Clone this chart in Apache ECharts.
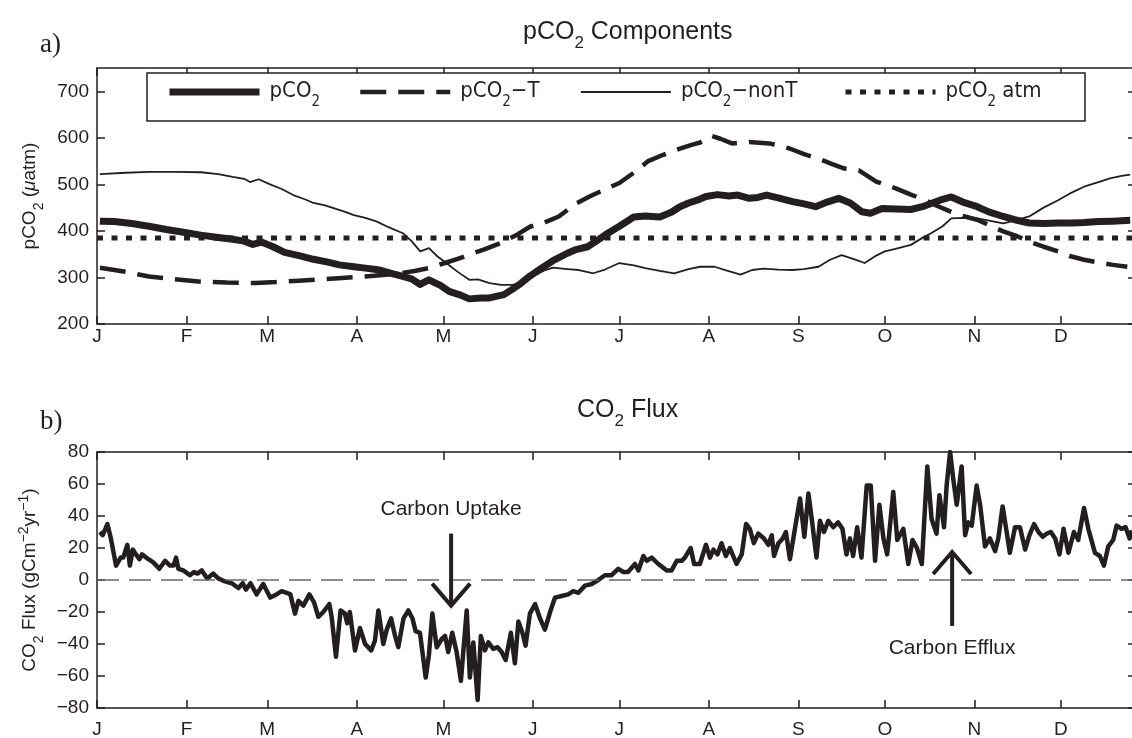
<!DOCTYPE html>
<html>
<head>
<meta charset="utf-8">
<script src="https://cdn.jsdelivr.net/npm/echarts@6/dist/echarts.min.js"></script>
<style>
  html, body { margin: 0; padding: 0; background: #fff; }
  #chart { width: 1132px; height: 738px; }
</style>
</head>
<body>
<div id="chart"></div>
<script>
// ---- data ----------------------------------------------------------------
const monthLabels = ['J', 'F', 'M', 'A', 'M', 'J', 'J', 'A', 'S', 'O', 'N', 'D'];
const monthStarts = [0, 31, 59, 90, 120, 151, 181, 212, 243, 273, 304, 334];
const pco2Ticks = [200, 300, 400, 500, 600, 700];
const fluxTicks = [-80, -60, -40, -20, 0, 20, 40, 60, 80];

// surface-water pCO2 (uatm) by day of year
const pco2 = [[1,421],[6,420],[12,416],[18,410],[24,403],[30,397],[36,391],[42,386],[47,382],[51,378],[54,371],[57,376],[61,366],[65,354],[70,347],[75,339],[80,333],[84,327],[89,323],[93,320],[98,316],[102,309],[105,304],[109,297],[112,285],[115,295],[119,283],[122,270],[126,262],[129,254],[133,256],[136,256],[141,263],[144,275],[147,288],[150,303],[154,320],[158,336],[163,352],[166,360],[170,366],[173,378],[177,395],[181,410],[186,430],[190,432],[195,430],[199,440],[202,452],[205,460],[208,466],[211,474],[215,478],[219,475],[222,477],[226,470],[229,472],[232,477],[236,471],[241,463],[245,458],[249,452],[253,462],[257,470],[261,460],[265,441],[268,438],[272,448],[277,447],[282,446],[286,452],[289,459],[293,468],[296,473],[300,462],[305,452],[309,441],[314,431],[318,424],[323,417],[328,416],[333,417],[338,417],[342,418],[347,420],[352,421],[358,423]];

// thermally driven component
const pco2T = [[1,321],[10,312],[18,302],[27,296],[36,291],[45,289],[55,288],[62,290],[70,293],[76,295],[85,299],[93,302],[100,306],[105,309],[110,314],[115,320],[120,330],[125,340],[129,349],[134,360],[140,374],[145,390],[150,409],[155,418],[160,431],[166,459],[171,475],[176,489],[181,503],[186,525],[191,550],[196,563],[202,577],[206,585],[209,590],[213,604],[216,598],[220,588],[226,591],[233,588],[240,577],[245,565],[250,555],[255,543],[259,534],[264,530],[270,506],[277,491],[282,478],[287,466],[291,454],[296,441],[300,432],[305,424],[310,410],[314,399],[319,388],[323,377],[328,366],[333,356],[337,346],[342,338],[347,332],[352,327],[357,323]];

// non-thermal component
const pco2NonT = [[1,522],[10,525],[18,527],[27,527],[36,526],[42,522],[47,516],[51,512],[53,505],[56,511],[60,500],[64,490],[68,477],[72,468],[75,460],[79,455],[82,449],[86,441],[89,434],[93,428],[97,420],[101,408],[106,395],[109,378],[112,356],[115,363],[118,345],[121,331],[125,312],[129,295],[132,296],[136,288],[140,284],[144,284],[148,290],[151,302],[155,315],[158,321],[163,318],[167,316],[172,309],[176,317],[181,331],[186,326],[190,320],[195,314],[200,309],[205,318],[209,323],[214,323],[218,315],[223,306],[227,316],[231,319],[236,317],[241,316],[245,318],[250,323],[254,338],[258,348],[262,340],[266,331],[270,347],[273,356],[277,362],[282,370],[286,385],[289,395],[293,410],[296,427],[300,428],[305,427],[310,421],[314,416],[318,422],[323,431],[328,450],[333,466],[337,480],[342,495],[347,505],[351,513],[355,518],[358,521]];

// atmospheric pCO2 (uatm), constant over the year
const pco2AtmDays = [0, 360];
const pco2AtmLevel = 385;

// air-sea CO2 flux (gC m-2 yr-1)
const flux = [[1,30],[2,28],[3.6,35],[4.8,26],[6.6,9],[8.2,14],[9.1,14],[10.5,22],[11.4,9],[12.4,19],[13.5,16],[14.7,13],[15.6,16],[17.8,13],[19.5,11],[21.6,7],[23.6,12],[25.3,9],[26.5,9],[27.4,14],[28.2,7],[29.9,6],[32.2,3],[33.6,5],[34.8,4],[36.3,6],[38.2,1],[40.3,4],[42,1],[43.8,-0.5],[45.5,-1.5],[46.7,-2],[49,-5],[50.5,-2],[51.6,-6],[53.2,-2],[55.3,-9],[57.6,-2.5],[60,-11],[62.2,-9],[64,-7],[65.7,-8],[67,-9],[68.6,-21],[69.8,-13],[71.5,-16],[73.6,-9],[75.2,-14],[76.7,-23],[78.4,-20],[80.5,-15],[81.3,-23],[82.8,-48],[84.4,-19],[85.9,-21],[86.7,-27],[87.6,-20],[89.4,-44],[91.1,-30],[92.9,-40],[95,-44],[96.3,-38],[97.5,-19],[99.2,-40],[100.4,-31],[101.9,-24],[103.3,-35],[104.4,-42],[106.2,-24],[107.9,-19],[109.3,-24],[110.4,-32],[111.9,-33],[113.9,-61],[115,-47],[116.2,-21],[117.7,-42],[119.4,-37],[120.6,-35],[121.7,-45],[123.1,-33],[124.6,-45],[126.1,-63],[128.1,-19],[129.2,-61],[130.4,-39],[131.9,-75],[133,-35],[134.4,-44],[135.6,-39],[137.3,-43],[138.8,-42],[140.2,-45],[141.6,-50],[143.4,-33],[144.8,-52],[146,-26],[147.4,-33],[148.5,-41],[150,-21],[151.8,-15],[153.5,-24],[155.2,-31],[157,-20],[158.7,-11],[161,-10],[163.3,-9],[165,-7],[166.8,-8],[169.1,-3.5],[171.4,-2.5],[173.7,0],[176,3],[178.3,3],[180.6,7],[182.4,5],[184,5],[186.4,10],[187.6,6],[189.3,15],[190.5,12],[192.2,14],[194.5,10],[197.4,6],[199.1,6],[200.9,12],[202.6,12],[203.7,14],[205.7,20],[206.9,10],[208.9,10],[211,22],[212.4,14],[213.6,19],[215,16],[216.4,23],[217.9,15],[219.3,20],[221.6,10],[223.4,16],[224.9,35],[226.2,32],[227.6,23],[229.1,29],[231.1,26],[232.6,22],[233.8,28],[234.6,15],[236.1,23],[237.6,26],[238.7,30],[240.1,13],[242.2,36],[243.6,51],[245.1,27],[246.5,54],[247.6,39],[249.3,14],[250.5,37],[251.9,30],[253.4,37],[255.1,33],[256.8,36],[258.3,32],[259.7,16],[260.9,26],[262,15],[263.4,33],[264.9,14],[266.7,59],[268.1,59],[269.6,12],[271.1,47],[272.5,26],[273.8,16],[275.9,55],[277.3,25],[279.4,32],[281.1,10],[282.6,25],[284.1,20],[285.8,10],[287.7,71],[289.2,38],[290.9,29],[291.9,53],[293.5,33],[294.4,59],[295.6,80],[296.7,63],[297.9,47],[299.6,71],[300.8,28],[301.9,36],[303.1,34],[304.8,59],[306,47],[307.7,21],[309.4,26],[311.2,18],[312.3,26],[313.8,46],[315.2,30],[316.3,17],[318.1,33],[319.8,33],[321.6,19],[323.1,28],[324.7,35],[326.2,30],[327.7,27],[329.1,29],[330.5,30],[332,26],[333.5,16],[334.9,32],[336.6,17],[338.5,30],[340,25],[342,45],[343.5,32],[345.8,17],[347.5,15],[348.9,9],[350.4,21],[352.1,25],[353.3,34],[355,32],[356.4,33],[357.8,26],[358.6,31]];

// annotations on the flux panel: arrow from tail to tip, text at label level
const noteText = ['Carbon Uptake', 'Carbon Efflux'];
const noteDay = [122.7, 296.3];
const arrowTail = [29, -28.7];
const arrowTip = [-16, 17.5];
const noteLevel = [44.4, -42.5];

// ---- styling -------------------------------------------------------------
const ink = '#231f20';
const sans = '"Liberation Sans", Arial, Helvetica, sans-serif';
const narrow = '"Liberation Sans Narrow", "DejaVu Sans Condensed", "Liberation Sans", sans-serif';
const DAY_MAX = 360;
const PX_PER_DAY = 2.886;

const monthOf = v => monthLabels[monthStarts.indexOf(Math.round(v))] || '';
const signed = v => (v < 0 ? '\u2212' + Math.abs(v) : String(v));

function xAxisFor(grid, position, withLabels, margin) {
  return {
    type: 'value', gridIndex: grid, position: position,
    min: 0, max: DAY_MAX,
    axisLine: { show: true, onZero: false, lineStyle: { color: ink, width: 1.5 } },
    axisTick: { show: true, inside: true, length: 8, customValues: monthStarts, lineStyle: { color: ink, width: 1.5 } },
    axisLabel: {
      show: withLabels, customValues: monthStarts, formatter: monthOf, margin: margin || 8,
      color: ink, fontSize: 19, fontFamily: sans
    },
    splitLine: { show: false }
  };
}

function yAxisFor(grid, position, min, max, ticks, withLabels, extra) {
  return Object.assign({
    type: 'value', gridIndex: grid, position: position, min: min, max: max,
    axisLine: { show: true, onZero: false, lineStyle: { color: ink, width: 1.5 } },
    axisTick: { show: true, inside: true, length: 8, customValues: ticks, lineStyle: { color: ink, width: 1.5 } },
    axisLabel: {
      show: withLabels, customValues: ticks, formatter: signed, margin: 8,
      color: ink, fontSize: 19, fontFamily: sans
    },
    splitLine: { show: false }
  }, extra || {});
}

const nameRich = {
  b: { fontSize: 19, lineHeight: 22, padding: [3, 0, 0, 0], verticalAlign: 'top', color: ink, fontFamily: sans },
  i: { fontSize: 19, lineHeight: 22, padding: [3, 0, 0, 0], verticalAlign: 'top', color: ink, fontFamily: sans, fontStyle: 'italic' },
  s: { fontSize: 14, lineHeight: 14, padding: [15, 0, 0, 0], verticalAlign: 'top', color: ink, fontFamily: sans },
  p: { fontSize: 14, lineHeight: 14, padding: [0, 0, 0, 0], verticalAlign: 'top', color: ink, fontFamily: sans }
};

const titleRich = {
  b: { fontSize: 25, lineHeight: 28, verticalAlign: 'top', color: ink, fontFamily: sans, fontWeight: 'normal' },
  s: { fontSize: 17, lineHeight: 17, padding: [15, 0, 0, 0], verticalAlign: 'top', color: ink, fontFamily: sans, fontWeight: 'normal' }
};

const legendNames = ['pCO2', 'pCO2-T', 'pCO2-nonT', 'pCO2 atm'];
const legendText = {
  'pCO2': '{g|pCO}{s|2}',
  'pCO2-T': '{g|pCO}{s|2}{b|\u2212T}',
  'pCO2-nonT': '{g|pCO}{s|2}{b|\u2212nonT}',
  'pCO2 atm': '{g|pCO}{s|2}{b| atm}'
};
const legendRich = {
  g: { fontSize: 22, lineHeight: 24, padding: [0, 0, 8, 5], verticalAlign: 'top', color: ink, fontFamily: narrow },
  b: { fontSize: 22, lineHeight: 24, padding: [0, 0, 8, 0], verticalAlign: 'top', color: ink, fontFamily: narrow },
  s: { fontSize: 15, lineHeight: 15, padding: [15, 0, 0, 0], verticalAlign: 'top', color: ink, fontFamily: narrow }
};
const legendLeft = [166, 358, 580, 843];

const serifStyle = { fontFamily: '"Liberation Serif", "DejaVu Serif", serif', fontSize: 27, fontWeight: 'normal', color: ink };

const option = {
  backgroundColor: '#ffffff',
  animation: false,
  title: [
    { text: 'a)', left: 40, top: 31, padding: 0, textStyle: serifStyle },
    { text: 'b)', left: 40, top: 408, padding: 0, textStyle: serifStyle },
    { text: '{b|pCO}{s|2}{b| Components}', left: 523, top: 20, padding: 0, textStyle: { rich: titleRich } },
    { text: '{b|CO}{s|2}{b| Flux}', left: 577, top: 398, padding: 0, textStyle: { rich: titleRich } }
  ],
  grid: [
    { left: 97, top: 68, width: DAY_MAX * PX_PER_DAY, height: 256, outerBoundsMode: 'none', containLabel: false },
    { left: 97, top: 452, width: DAY_MAX * PX_PER_DAY, height: 256, outerBoundsMode: 'none', containLabel: false }
  ],
  xAxis: [
    xAxisFor(0, 'bottom', true, 3),
    xAxisFor(0, 'top', false),
    xAxisFor(1, 'bottom', true, 12),
    xAxisFor(1, 'top', false)
  ],
  yAxis: [
    yAxisFor(0, 'left', 200, 750, pco2Ticks, true, {
      name: '{b|pCO}{s|2}{b| (}{i|\u03bc}{b|atm)}', nameLocation: 'middle', nameRotate: 90, nameGap: 53,
      nameTextStyle: { rich: nameRich }
    }),
    yAxisFor(0, 'right', 200, 750, pco2Ticks, false),
    yAxisFor(1, 'left', -80, 80, fluxTicks, true, {
      name: '{b|CO}{s|2}{b| Flux (gCm}{p|\u22122}{b|yr}{p|\u22121}{b|)}', nameLocation: 'middle', nameRotate: 90, nameGap: 53,
      nameTextStyle: { rich: nameRich }
    }),
    yAxisFor(1, 'right', -80, 80, fluxTicks, false)
  ],
  legend: legendNames.map((n, i) => ({
    data: [n], left: legendLeft[i], top: 80, padding: 0, itemGap: 0,
    itemWidth: 90, itemHeight: 14, selectedMode: false, z: 6,
    formatter: name => legendText[name],
    textStyle: { rich: legendRich },
    itemStyle: { opacity: 0 },
    lineStyle: { width: 'inherit', opacity: 1 }
  })),
  graphic: [
    { type: 'rect', z: 5, shape: { x: 147, y: 73, width: 938, height: 48 },
      style: { fill: '#ffffff', stroke: ink, lineWidth: 1.5 } }
  ],
  series: [
    { name: 'pCO2', type: 'line', xAxisIndex: 0, yAxisIndex: 0, data: pco2, symbol: 'none',
      lineStyle: { color: ink, width: 7, join: 'round' }, itemStyle: { color: ink }, z: 4 },
    { name: 'pCO2-T', type: 'line', xAxisIndex: 0, yAxisIndex: 0, data: pco2T, symbol: 'none',
      lineStyle: { color: ink, width: 4.5, type: [26, 12] }, itemStyle: { color: ink }, z: 3 },
    { name: 'pCO2-nonT', type: 'line', xAxisIndex: 0, yAxisIndex: 0, data: pco2NonT, symbol: 'none',
      lineStyle: { color: ink, width: 1.8, join: 'round' }, itemStyle: { color: ink }, z: 3 },
    { name: 'pCO2 atm', type: 'line', xAxisIndex: 0, yAxisIndex: 0,
      data: pco2AtmDays.map(d => [d, pco2AtmLevel]), symbol: 'none',
      lineStyle: { color: ink, width: 5, type: [6, 8.5] }, itemStyle: { color: ink }, z: 3 },
    { name: 'CO2 flux', type: 'line', xAxisIndex: 2, yAxisIndex: 2, data: flux, symbol: 'none',
      lineStyle: { color: ink, width: 4.5, join: 'round' }, itemStyle: { color: ink }, z: 3,
      markLine: {
        silent: true, symbol: 'none', label: { show: false },
        lineStyle: { color: '#6a6a6a', width: 1.6, type: [22, 10] },
        data: [{ yAxis: 0 }]
      } },
    { name: 'notes', type: 'custom', xAxisIndex: 2, yAxisIndex: 2, z: 5,
      data: noteDay.map((d, i) => [d, arrowTail[i], arrowTip[i], noteLevel[i]]),
      renderItem: (params, api) => {
        const i = params.dataIndex;
        const day = api.value(0);
        const p0 = api.coord([day, api.value(1)]);
        const p1 = api.coord([day, api.value(2)]);
        const pt = api.coord([day, api.value(3)]);
        const dir = p1[1] > p0[1] ? 1 : -1;
        const hw = 19, hh = 22;
        return {
          type: 'group',
          children: [
            { type: 'line', shape: { x1: p0[0], y1: p0[1], x2: p1[0], y2: p1[1] },
              style: { stroke: ink, lineWidth: 4 } },
            { type: 'polyline',
              shape: { points: [[p1[0] - hw, p1[1] - dir * hh], [p1[0], p1[1]], [p1[0] + hw, p1[1] - dir * hh]] },
              style: { stroke: ink, lineWidth: 4, fill: null, lineJoin: 'miter' } },
            { type: 'text', x: pt[0], y: pt[1],
              style: { text: noteText[i], align: 'center', verticalAlign: 'middle',
                       fontSize: 21, fontFamily: sans, fill: ink } }
          ]
        };
      } }
  ]
};

const chart = echarts.init(document.getElementById('chart'), null, { renderer: 'canvas' });
chart.setOption(option);
</script>
</body>
</html>
